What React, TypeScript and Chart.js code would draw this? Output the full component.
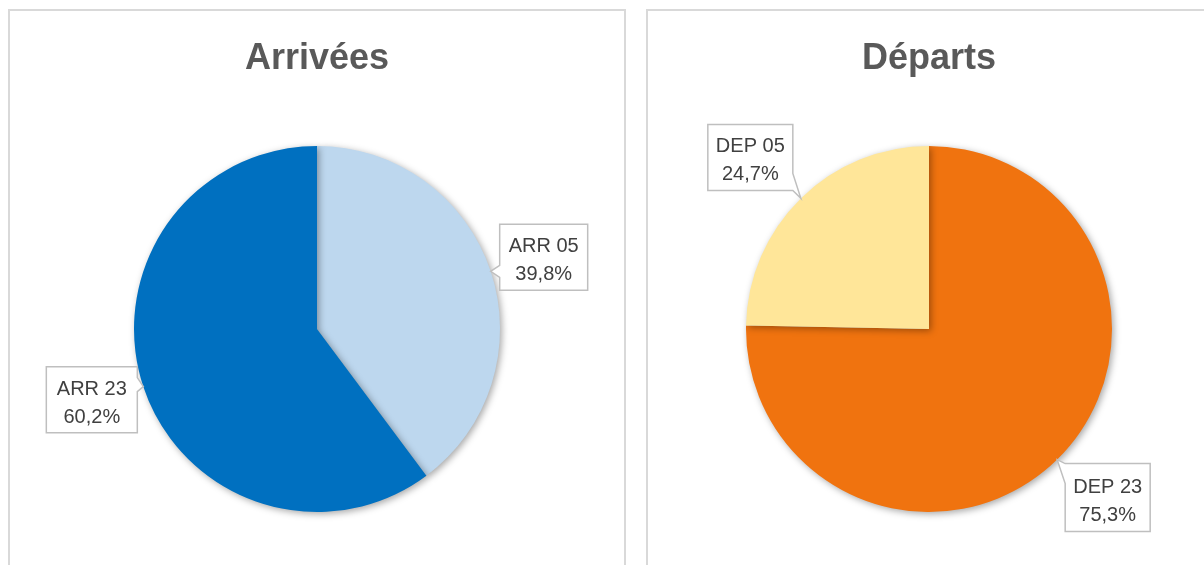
import React, { useEffect, useRef } from "react";
import { Chart, registerables } from "chart.js";

Chart.register(...registerables);

// ---- data ----
const arrTitle = "Arrivées";
const arrLabels = ["ARR 05", "ARR 23"];
const arrValues = [39.8, 60.2];
const arrColors = ["#BDD7EE", "#0070C0"];

const depTitle = "Départs";
const depLabels = ["DEP 23", "DEP 05"];
const depValues = [75.3, 24.7];
const depColors = ["#F0730F", "#FFE699"];

// ---- callout layout (box offset from the leader tip, box size, wedge side) ----
type Callout = { dx: number; dy: number; w: number; h: number; side: "left" | "right"; b1: number; b2: number };
const arrCallouts: Callout[] = [
  { dx: 9, dy: -47, w: 88, h: 66, side: "left", b1: 41, b2: 53 },
  { dx: -97, dy: -20, w: 91, h: 66, side: "right", b1: 11, b2: 25 },
];
const depCallouts: Callout[] = [
  { dx: 8, dy: 4, w: 85, h: 68, side: "left", b1: 0, b2: 20 },
  { dx: -93, dy: -74, w: 85, h: 66, side: "right", b1: 49, b2: 66 },
];

const FONT = '"Liberation Sans", Arial, sans-serif';

function fmt(v: number) {
  return v.toFixed(1).replace(".", ",") + "%";
}

function drawCallout(ctx: CanvasRenderingContext2D, l: number, t: number, c: Callout, tx: number, ty: number) {
  const r = l + c.w;
  const b = t + c.h;
  ctx.beginPath();
  ctx.moveTo(l, t);
  ctx.lineTo(r, t);
  if (c.side === "right") {
    ctx.lineTo(r, t + c.b1);
    ctx.lineTo(tx, ty);
    ctx.lineTo(r, t + c.b2);
  }
  ctx.lineTo(r, b);
  ctx.lineTo(l, b);
  if (c.side === "left") {
    ctx.lineTo(l, t + c.b2);
    ctx.lineTo(tx, ty);
    ctx.lineTo(l, t + c.b1);
  }
  ctx.closePath();
  ctx.fillStyle = "#ffffff";
  ctx.fill();
  ctx.lineWidth = 1.5;
  ctx.strokeStyle = "#bfbfbf";
  ctx.stroke();
}

function makePlugin(title: string, callouts: Callout[]) {
  return {
    id: "pieDecor",
    beforeDatasetsDraw(chart: any) {
      const ctx = chart.ctx;
      ctx.save();
      ctx.shadowColor = "rgba(0,0,0,0.35)";
      ctx.shadowBlur = 7;
      ctx.shadowOffsetX = 2;
      ctx.shadowOffsetY = 2;
    },
    afterDatasetsDraw(chart: any) {
      const ctx: CanvasRenderingContext2D = chart.ctx;
      ctx.restore();
      const meta = chart.getDatasetMeta(0);
      const data = chart.data.datasets[0].data as number[];
      const labels = chart.data.labels as string[];
      meta.data.forEach((arc: any, i: number) => {
        const p = arc.getProps(["x", "y", "startAngle", "endAngle", "outerRadius"], true);
        const mid = (p.startAngle + p.endAngle) / 2;
        const tx = p.x + Math.cos(mid) * p.outerRadius;
        const ty = p.y + Math.sin(mid) * p.outerRadius;
        const c = callouts[i];
        const l = tx + c.dx;
        const t = ty + c.dy;
        ctx.save();
        drawCallout(ctx, l, t, c, tx, ty);
        ctx.fillStyle = "#404040";
        ctx.font = `20px ${FONT}`;
        ctx.textAlign = "center";
        ctx.textBaseline = "alphabetic";
        const cx = l + c.w / 2;
        const off = (c.h - 66) / 2;
        ctx.fillText(labels[i], cx, t + 28 + off);
        ctx.fillText(fmt(data[i]), cx, t + 56 + off);
        ctx.restore();
      });
      // title
      const ca = chart.chartArea;
      ctx.save();
      ctx.fillStyle = "#595959";
      ctx.font = `bold 36px ${FONT}`;
      ctx.textAlign = "center";
      ctx.textBaseline = "alphabetic";
      ctx.fillText(title, (ca.left + ca.right) / 2, 58);
      ctx.restore();
    },
  };
}

type PieProps = {
  title: string;
  labels: string[];
  values: number[];
  colors: string[];
  callouts: Callout[];
  left: number;
  width: number;
  padding: { left: number; right: number; top: number; bottom: number };
};

function PieChart({ title, labels, values, colors, callouts, left, width, padding }: PieProps) {
  const ref = useRef<HTMLCanvasElement>(null);
  useEffect(() => {
    const chart = new Chart(ref.current as HTMLCanvasElement, {
      type: "pie",
      data: {
        labels,
        datasets: [{ data: values, backgroundColor: colors, borderWidth: 0, hoverOffset: 0 }],
      },
      options: {
        responsive: false,
        animation: false,
        events: [],
        layout: { padding },
        plugins: {
          legend: { display: false },
          tooltip: { enabled: false },
          title: { display: false },
        },
      },
      plugins: [makePlugin(title, callouts)],
    });
    return () => chart.destroy();
  }, []);
  return (
    <canvas
      ref={ref}
      width={width}
      height={554}
      style={{ position: "absolute", left, top: 11, width, height: 554 }}
    />
  );
}

export default function App() {
  return (
    <div style={{ position: "absolute", left: 0, top: 0, width: 1204, height: 565, overflow: "hidden", background: "#fff" }}>
      <div style={{ position: "absolute", left: 8, top: 9, width: 618, height: 600, border: "2px solid #d9d9d9", boxSizing: "border-box" }} />
      <div style={{ position: "absolute", left: 646, top: 9, width: 600, height: 600, border: "2px solid #d9d9d9", boxSizing: "border-box" }} />
      <PieChart
        title={arrTitle}
        labels={arrLabels}
        values={arrValues}
        colors={arrColors}
        callouts={arrCallouts}
        left={10}
        width={614}
        padding={{ left: 124, right: 124, top: 135, bottom: 53 }}
      />
      <PieChart
        title={depTitle}
        labels={depLabels}
        values={depValues}
        colors={depColors}
        callouts={depCallouts}
        left={648}
        width={556}
        padding={{ left: 98, right: 92, top: 135, bottom: 53 }}
      />
    </div>
  );
}
